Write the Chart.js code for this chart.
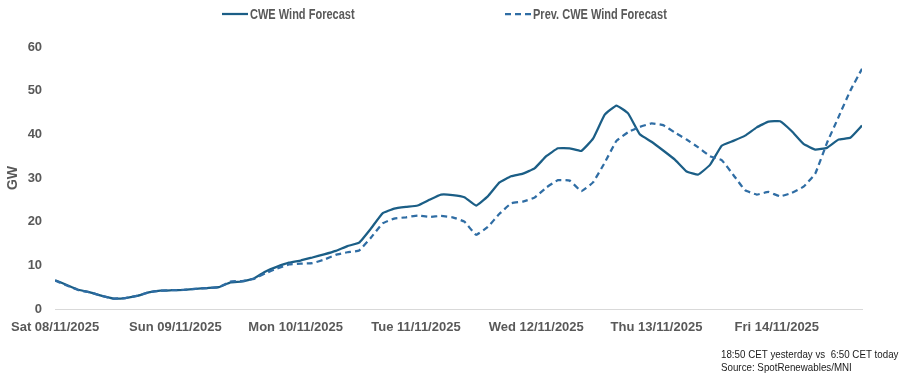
<!DOCTYPE html>
<html>
<head>
<meta charset="utf-8">
<script src="https://cdn.jsdelivr.net/npm/chart.js@4.4.1/dist/chart.umd.min.js"></script>
<style>
  html, body { margin: 0; padding: 0; background: #ffffff; }
  #wrap { position: relative; width: 905px; height: 379px; }
  canvas { display: block; }
</style>
</head>
<body>
<div id="wrap"><canvas id="chart" width="905" height="379"></canvas></div>
<script>
// ---- data (hours since Sat 08/11/2025 00:00, one sample every 7/3 h) ----
const dayLabels = ["Sat 08/11/2025", "Sun 09/11/2025", "Mon 10/11/2025", "Tue 11/11/2025",
                   "Wed 12/11/2025", "Thu 13/11/2025", "Fri 14/11/2025"];
const stepHours = 7 / 3;
const seriesNames = ["CWE Wind Forecast", "Prev. CWE Wind Forecast"];
const cweForecast = [
  6.6, 5.5, 4.4, 3.8, 3.0, 2.4, 2.5, 3.0, 3.8, 4.2,
  4.3, 4.4, 4.6, 4.8, 5.0, 6.1, 6.3, 7.0, 8.6, 9.7,
  10.6, 11.1, 11.8, 12.5, 13.3, 14.4, 15.2, 18.4, 21.9, 23.0,
  23.4, 23.7, 25.0, 26.2, 26.1, 25.6, 23.7, 25.8, 29.0, 30.4,
  31.0, 32.2, 35.0, 36.8, 36.8, 36.2, 39.0, 44.5, 46.6, 44.8,
  40.0, 38.3, 36.3, 34.2, 31.5, 30.8, 33.0, 37.4, 38.5, 39.7,
  41.6, 42.9, 43.0, 40.7, 37.8, 36.5, 36.9, 38.8, 39.2, 42.0
];
const prevCweForecast = [
  6.5, 5.4, 4.3, 3.8, 3.0, 2.4, 2.5, 3.0, 3.8, 4.2,
  4.3, 4.4, 4.6, 4.8, 5.0, 6.3, 6.4, 6.9, 8.2, 9.3,
  10.2, 10.4, 10.5, 11.3, 12.4, 13.0, 13.4, 16.3, 19.6, 20.7,
  21.0, 21.4, 21.1, 21.3, 21.0, 20.0, 17.0, 18.8, 21.8, 24.2,
  24.6, 25.5, 27.8, 29.5, 29.4, 27.0, 29.0, 33.5, 38.5, 40.5,
  41.7, 42.5, 42.1, 40.4, 38.8, 37.0, 35.0, 34.1, 30.7, 27.2,
  26.2, 26.8, 25.8, 26.6, 28.0, 31.0, 38.0, 44.0, 50.0, 55.0
];
const yTicks = [0, 10, 20, 30, 40, 50, 60];
const footnotes = ["18:50 CET yesterday vs  6:50 CET today", "Source: SpotRenewables/MNI"];

// ---- styling ----
const SANS = '"Liberation Sans", Arial, sans-serif';
const GREY = '#595959';
const toPoints = arr => arr.map((v, i) => ({ x: i * stepHours, y: v }));

const overlay = {
  id: 'overlay',
  afterDraw(chart) {
    const ctx = chart.ctx;
    ctx.save();
    const legendPos = [222, 505];
    chart.data.datasets.forEach((ds, i) => {
      const x = legendPos[i], y = 14;
      ctx.strokeStyle = ds.borderColor;
      ctx.lineWidth = 2.25;
      ctx.setLineDash(ds.borderDash || []);
      ctx.beginPath(); ctx.moveTo(x, y); ctx.lineTo(x + 26, y); ctx.stroke();
      ctx.setLineDash([]);
      ctx.save();
      ctx.translate(x + 28, y + 0.5);
      ctx.scale(0.76, 1);
      ctx.fillStyle = GREY;
      ctx.font = 'bold 14.5px ' + SANS;
      ctx.textBaseline = 'middle';
      ctx.textAlign = 'left';
      ctx.fillText(ds.label, 0, 0);
      ctx.restore();
    });
    footnotes.forEach((t, i) => {
      ctx.save();
      ctx.translate(721, 355 + i * 13);
      ctx.scale(0.93, 1);
      ctx.fillStyle = '#1a1a1a';
      ctx.font = '10.5px ' + SANS;
      ctx.textBaseline = 'middle';
      ctx.textAlign = 'left';
      ctx.fillText(t, 0, 0);
      ctx.restore();
    });
    ctx.restore();
  }
};

new Chart(document.getElementById('chart'), {
  type: 'line',
  data: {
    datasets: [
      { label: seriesNames[0], data: toPoints(cweForecast), borderColor: '#1b5e86',
        borderWidth: 2.25, pointRadius: 0, tension: 0.1, fill: false, order: 1 },
      { label: seriesNames[1], data: toPoints(prevCweForecast), borderColor: '#2f6da4',
        borderWidth: 2.25, borderDash: [6, 4], pointRadius: 0, tension: 0.1, fill: false, order: 0 }
    ]
  },
  options: {
    responsive: false,
    animation: false,
    layout: { padding: { left: 0, right: 43, top: 47, bottom: 40 } },
    plugins: { legend: { display: false }, tooltip: { enabled: false } },
    scales: {
      x: {
        type: 'linear', min: 0, max: 161,
        grid: { display: false, drawTicks: false },
        border: { display: true, color: '#d9d9d9', width: 1 },
        afterBuildTicks: s => { s.ticks = dayLabels.map((_, k) => ({ value: k * 24 })); },
        ticks: {
          autoSkip: false, maxRotation: 0, padding: 11, color: GREY,
          font: { family: SANS, size: 13, weight: 'bold' },
          callback: v => dayLabels[Math.round(v / 24)]
        },
        afterFit: s => { s.height = 30; }
      },
      y: {
        min: 0, max: 60,
        afterBuildTicks: s => { s.ticks = yTicks.map(v => ({ value: v })); },
        grid: { display: false, drawTicks: false },
        border: { display: false },
        ticks: { padding: 13, color: GREY, font: { family: SANS, size: 13, weight: 'bold' } },
        title: { display: true, text: 'GW', color: GREY,
                 font: { family: SANS, size: 14, weight: 'bold' },
                 padding: { top: 1, bottom: 4 } },
        afterFit: s => { s.width = 51; }
      }
    }
  },
  plugins: [overlay]
});
</script>
</body>
</html>
